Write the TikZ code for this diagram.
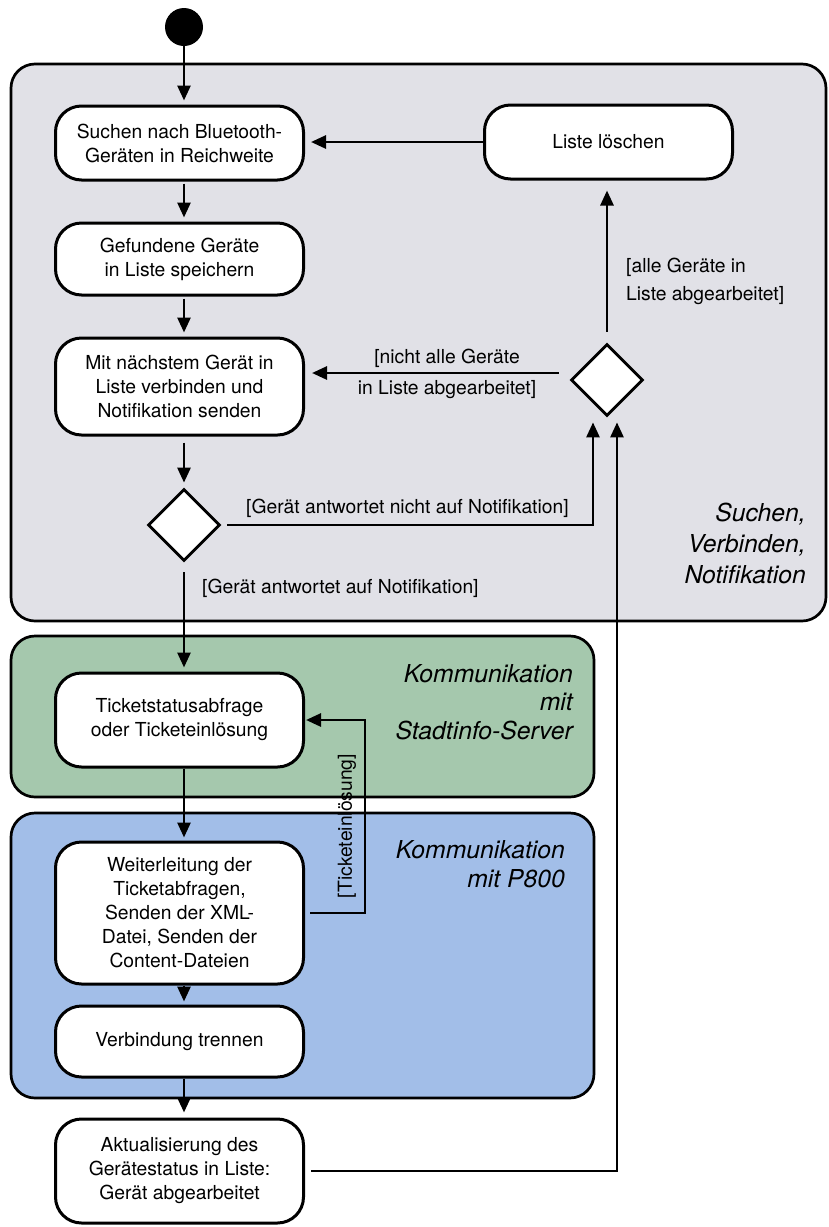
\documentclass[tikz,border=0pt]{standalone}
\usepackage{fontspec}
\setmainfont{TeX Gyre Heros}
\usetikzlibrary{arrows.meta,shapes.geometric}
\definecolor{lanegrey}{RGB}{225,225,231}
\definecolor{lanegreen}{RGB}{165,200,173}
\definecolor{laneblue}{RGB}{162,190,232}
\newcommand\actfont{\fontsize{19.3}{24}\selectfont}
\newcommand\lanefont{\itshape\fontsize{24.7}{28.5}\selectfont}
\begin{document}
\begin{tikzpicture}[x=1pt,y=-1pt,
  lane/.style={draw=black, line width=2.7pt, rounded corners=24pt, inner sep=0pt},
  action/.style={draw=black, fill=white, line width=3pt, rounded corners=26pt,
    minimum width=248pt, inner sep=0pt, align=center, font=\actfont},
  decision/.style={draw=black, fill=white, line width=2.8pt, diamond,
    minimum width=72pt, minimum height=72pt, inner sep=0pt},
  flow/.style={line width=2.7pt, -{Triangle[length=15pt,width=13pt]}},
  guard/.style={font=\actfont, inner sep=0pt},
  lanelabel/.style={font=\lanefont, inner sep=0pt, align=right},
]
\useasboundingbox (0,0) rectangle (829,1227);

% swimlanes
\node[lane, fill=lanegrey, minimum width=815pt, minimum height=557pt] (lanesearch) at (418.5,342.5) {};
\node[lane, fill=lanegreen, minimum width=583pt, minimum height=161pt] (laneserver) at (302.5,716.5) {};
\node[lane, fill=laneblue, minimum width=583pt, minimum height=285pt] (lanephone) at (302.5,955.5) {};

\node[lanelabel, anchor=east, font=\itshape\fontsize{24.7}{31}\selectfont] (labsearch) at (806,543) {Suchen,\\Verbinden,\\Notifikation};
\node[lanelabel, anchor=east] (labserver) at (573,702) {Kommunikation\\mit\hspace{8pt}\\Stadtinfo-Server};
\node[lanelabel, anchor=east] (labphone) at (565,864) {Kommunikation\\mit P800};

% activities
\node[circle, fill=black, minimum size=38pt, inner sep=0pt] (start) at (184,27) {};
\node[action, minimum height=74pt] (search) at (179.5,143) {Suchen nach Bluetooth-\\Geräten in Reichweite};
\node[action, minimum height=72pt] (store) at (179.5,259) {Gefundene Geräte\\in Liste speichern};
\node[action, minimum height=97pt] (connect) at (179.5,386.5) {Mit nächstem Gerät in\\Liste verbinden und\\Notifikation senden};
\node[decision] (answered) at (184,525) {};
\node[action, minimum height=74pt] (clear) at (608.5,142) {Liste löschen};
\node[decision] (alldone) at (607,380) {};
\node[action, minimum height=94pt] (ticket) at (179.5,720) {Ticketstatusabfrage\\oder Ticketeinlösung};
\node[action, minimum height=142pt] (forward) at (179.5,913) {Weiterleitung der\\Ticketabfragen,\\Senden der XML-\\Datei, Senden der\\Content-Dateien};
\node[action, minimum height=71pt] (disconnect) at (179.5,1041.5) {Verbindung trennen};
\node[action, minimum height=104pt] (update) at (179.5,1171) {Aktualisierung des\\Gerätestatus in Liste:\\Gerät abgearbeitet};

% helper columns for connectors
\coordinate (spine) at (184,0);
\coordinate (leftin) at (593,0);
\coordinate (rightin) at (617,0);
\coordinate (loopx) at (365,0);

% main flow
\draw[flow, shorten >=4pt] (start) -- (search.north -| spine);
\draw[flow, shorten <=2pt, shorten >=4pt] (search.south -| spine) -- (store.north -| spine);
\draw[flow, shorten <=2pt, shorten >=4pt] (store.south -| spine) -- (connect.north -| spine);
\draw[flow, shorten <=6pt, shorten >=5pt] (connect.south -| spine) -- (answered.north);
\draw[flow, shorten <=10pt, shorten >=4pt] (answered.south) -- (ticket.north -| spine);
\draw[flow, shorten >=3pt] (ticket.south -| spine) -- (forward.north -| spine);
\draw[flow, shorten >=3pt] (forward.south -| spine) -- (disconnect.north -| spine);
\draw[flow, shorten >=5pt] (disconnect.south -| spine) -- (update.north -| spine);

% branches
\draw[flow, shorten <=6pt, shorten >=5pt] (answered.east) -- (answered.east -| leftin) -- (leftin |- alldone.south);
\draw[flow, shorten <=6pt, shorten >=5pt] (update.east) -- (update.east -| rightin) -- (rightin |- alldone.south);
\draw[flow, shorten <=11pt, shorten >=7pt] ([yshift=7pt]alldone.west) -- ([yshift=7pt]alldone.west -| connect.east);
\draw[flow, shorten <=11pt, shorten >=10pt] (alldone.north) -- (clear.south -| alldone.north);
\draw[flow, shorten >=6pt] (clear.west) -- (clear.west -| search.east);
\draw[flow, shorten <=5pt, shorten >=1pt] (forward.east) -- (forward.east -| loopx) -- (loopx |- ticket.east) -- (ticket.east);

% guards
\node[guard, align=left, anchor=west, font=\fontsize{19.3}{28}\selectfont] (galldone) at (626,281) {[alle Geräte in\\Liste abgearbeitet]};
\node[guard, align=center, font=\fontsize{19.3}{31}\selectfont] (gnotall) at (447,373.5) {[nicht alle Geräte\\in Liste abgearbeitet]};
\node[guard, anchor=west] (gnoreply) at (246,508) {[Gerät antwortet nicht auf Notifikation]};
\node[guard, anchor=west] (greply) at (202,588) {[Gerät antwortet auf Notifikation]};
\node[guard, rotate=90] (gredeem) at (347,826) {[Ticketeinlösung]};
\end{tikzpicture}
\end{document}
